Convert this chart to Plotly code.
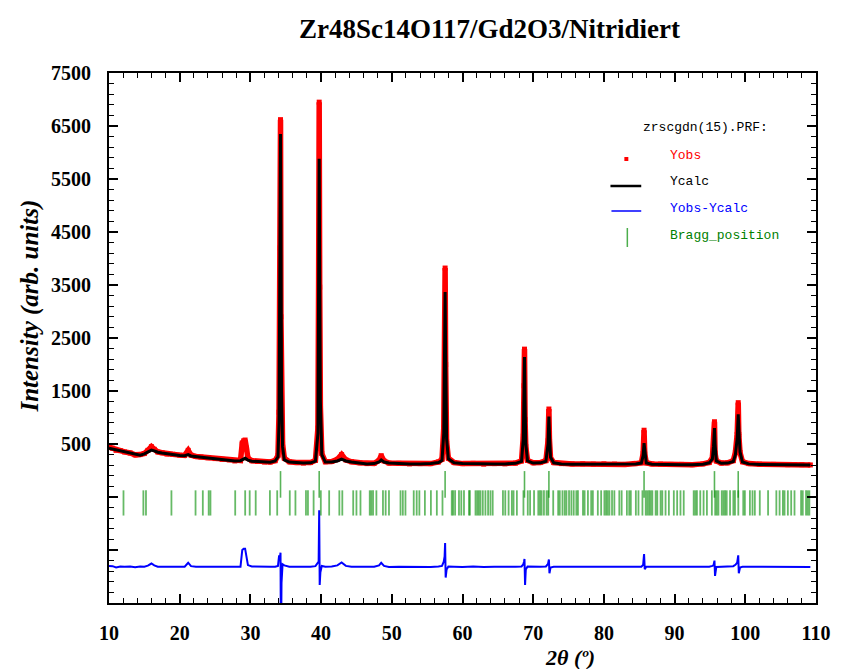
import plotly.graph_objects as go

# ---------------- data ----------------
two_theta = [10.0, 10.5, 11.0, 11.6, 12.2, 13.0, 13.7, 14.4, 15.0, 15.5, 16.0, 16.4, 16.9, 17.5, 18.2,
             19.0, 20.0, 20.7, 21.2, 21.6, 22.3, 23.0, 24.0, 25.0, 26.0, 27.0, 27.8, 28.6, 28.85, 29.05,
             29.25, 29.45, 29.65, 30.2, 31.0, 32.0, 32.8, 33.5, 33.9, 34.05, 34.20, 34.26, 34.32, 34.40,
             34.55, 34.80, 35.5, 36.5, 37.5, 38.5, 39.2, 39.55, 39.65, 39.73, 39.80, 39.90, 40.10, 40.6,
             41.5, 42.3, 42.9, 43.5, 44.3, 45.5, 46.5, 47.5, 48.2, 48.5, 48.9, 49.6, 51.0, 52.5, 54.0,
             55.5, 56.6, 57.1, 57.35, 57.47, 57.54, 57.62, 57.75, 58.0, 58.8, 60.0, 61.5, 63.0, 64.5,
             66.0, 67.5, 68.35, 68.60, 68.70, 68.77, 68.85, 68.95, 69.2, 70.0, 71.0, 71.8, 72.10, 72.22,
             72.30, 72.45, 72.9, 74.0, 75.5, 77.0, 78.5, 80.0, 81.5, 83.0, 84.5, 85.3, 85.55, 85.68,
             85.78, 86.0, 86.8, 88.0, 89.5, 91.0, 92.5, 94.0, 94.9, 95.35, 95.50, 95.64, 95.72, 95.90,
             96.6, 97.5, 98.3, 98.6, 98.85, 99.00, 99.08, 99.25, 99.6, 100.5, 102.0, 104.0, 106.0,
             108.0, 109.2]

y_calc = [420, 405, 390, 365, 345, 320, 300, 290, 315, 355, 385, 370, 345, 330, 315,
          300, 285, 280, 300, 275, 260, 250, 235, 220, 205, 190, 180, 185, 200, 215,
          230, 215, 195, 175, 165, 155, 155, 180, 260, 900, 4000, 6350, 4650, 1500,
          450, 200, 160, 145, 140, 145, 175, 700, 3500, 5880, 3800, 1300, 300, 160,
          160, 180, 215, 180, 160, 140, 125, 130, 160, 200, 160, 140, 130, 125, 125,
          130, 150, 190, 700, 2300, 3370, 2200, 600, 220, 145, 130, 125, 120, 125,
          125, 135, 170, 600, 1500, 2140, 1300, 500, 180, 140, 145, 175, 500, 1020,
          700, 250, 145, 125, 120, 120, 125, 120, 115, 115, 125, 140, 280, 515,
          350, 140, 120, 115, 115, 110, 110, 120, 145, 220, 450, 800, 500, 180,
          135, 140, 170, 300, 600, 1060, 800, 350, 160, 125, 115, 110, 110,
          105, 105]

y_obs = [440, 420, 380, 375, 350, 330, 295, 300, 320, 380, 450, 400, 350, 335, 310,
         305, 290, 285, 380, 290, 265, 255, 240, 225, 210, 200, 180, 190, 520, 560,
         575, 420, 230, 185, 170, 160, 160, 185, 280, 1100, 4200, 6620, 2900, 1200,
         500, 230, 165, 150, 140, 150, 190, 800, 3600, 6950, 3460, 1200, 320, 165,
         170, 210, 300, 200, 165, 145, 130, 135, 190, 280, 180, 140, 135, 125, 130,
         130, 160, 210, 800, 2500, 3820, 2000, 550, 230, 150, 130, 135, 120, 130,
         125, 140, 180, 650, 1600, 2290, 960, 450, 190, 145, 150, 185, 560, 1160,
         580, 240, 150, 130, 125, 125, 120, 125, 120, 115, 130, 145, 320, 760,
         310, 145, 125, 120, 115, 115, 110, 125, 150, 240, 480, 920, 330, 180,
         140, 145, 185, 340, 680, 1280, 680, 340, 165, 130, 120, 115, 110,
         110, 105]

bragg_phase1 = [34.26, 39.73, 57.54, 68.77, 72.22, 85.68, 95.64, 99.0]

bragg_phase2 = [12.05, 14.86, 15.23, 18.83, 22.24, 23.27, 24.10, 24.35, 27.85, 29.26, 29.90, 30.75,
                32.76, 33.79, 35.57, 36.37, 37.86, 38.14, 38.94, 39.96, 41.14, 42.58, 43.00, 44.54,
                45.00, 45.57, 46.88, 47.10, 47.35, 47.82, 48.75, 49.13, 49.60, 51.23, 51.56, 51.93,
                53.10, 53.52, 53.90, 54.68, 55.53, 56.37, 57.17, 58.48, 58.67, 58.95, 59.50, 59.83,
                60.21, 60.91, 61.05, 61.84, 62.08, 62.31, 62.54, 62.87, 63.24, 63.62, 63.95, 64.27,
                65.72, 66.05, 66.52, 66.98, 67.22, 67.69, 68.62, 69.23, 69.56, 70.12, 70.72, 70.96,
                71.19, 71.52, 71.89, 72.13, 72.83, 73.53, 73.76, 74.14, 74.46, 74.70, 75.07, 75.40,
                75.73, 76.10, 76.33, 77.04, 77.27, 77.74, 78.20, 78.44, 79.14, 79.61, 80.07, 80.31,
                80.54, 80.78, 81.15, 81.48, 82.18, 82.51, 83.25, 83.58, 83.81, 84.52, 84.89, 85.45,
                85.92, 86.15, 86.39, 86.62, 86.85, 87.32, 87.55, 88.02, 88.26, 88.72, 89.19, 89.89,
                90.36, 90.83, 91.29, 92.70, 92.93, 93.16, 93.63, 94.10, 94.57, 95.27, 95.74, 95.97,
                96.20, 96.67, 96.91, 97.14, 97.37, 97.84, 98.31, 98.54, 99.01, 99.71, 99.94, 100.65,
                101.02, 101.35, 102.05, 103.22, 104.39, 104.85, 105.32, 105.55, 106.02, 106.49,
                106.96, 107.89, 108.13, 108.59, 108.83, 109.06]

x_ticks = [10, 20, 30, 40, 50, 60, 70, 80, 90, 100, 110]
y_ticks = [-2500, -1500, -500, 500, 1500, 2500, 3500, 4500, 5500, 6500, 7500]
y_ticklabels = ["", "", "", "500", "1500", "2500", "3500", "4500", "5500", "6500", "7500"]

title_text = "Zr48Sc14O117/Gd2O3/Nitridiert"
file_label = "zrscgdn(15).PRF:"
legend_labels = ["Yobs", "Ycalc", "Yobs-Ycalc", "Bragg_position"]

# plotting constants (layout only)
DIFF_OFFSET = -1820
PHASE1_ROW = -262
PHASE2_ROW = -612

diff = [o - c + DIFF_OFFSET for o, c in zip(y_obs, y_calc)]

# ---------------- figure ----------------
PL, PR, PT, PB = 109, 821, 73, 603   # plot frame in pixels
W, H = 842, 669


def px(x):
    return (x - PL) / (PR - PL)


def py(y):
    return (PB - y) / (PB - PT)


fig = go.Figure()

fig.add_trace(go.Scatter(
    x=two_theta, y=y_obs, mode="lines+markers",
    line=dict(color="#ff0000", width=5.5),
    marker=dict(symbol="square", size=5, color="#ff0000"),
    showlegend=False, hoverinfo="skip"))

fig.add_trace(go.Scatter(
    x=two_theta, y=y_calc, mode="lines",
    line=dict(color="#000000", width=3),
    showlegend=False, hoverinfo="skip"))

fig.add_trace(go.Scatter(
    x=two_theta, y=diff, mode="lines",
    line=dict(color="#0000ff", width=2),
    showlegend=False, hoverinfo="skip"))

fig.add_trace(go.Scatter(
    x=bragg_phase1, y=[PHASE1_ROW] * len(bragg_phase1), mode="markers",
    marker=dict(symbol="line-ns", size=19, line=dict(color="rgba(0,140,0,0.65)", width=1.6)),
    showlegend=False, hoverinfo="skip"))

fig.add_trace(go.Scatter(
    x=bragg_phase2, y=[PHASE2_ROW] * len(bragg_phase2), mode="markers",
    marker=dict(symbol="line-ns", size=18, line=dict(color="rgba(0,140,0,0.6)", width=1.8)),
    showlegend=False, hoverinfo="skip"))

tickfont = dict(family="Liberation Serif", size=20, color="black", weight="bold")

fig.update_xaxes(
    range=[10, 110], tickmode="array", tickvals=x_ticks, ticktext=[str(v) for v in x_ticks],
    ticks="inside", ticklen=9, tickwidth=2, tickcolor="black",
    minor=dict(tickmode="linear", tick0=10, dtick=2, ticks="inside", ticklen=5, tickwidth=1.3, tickcolor="black"),
    showline=True, linecolor="black", linewidth=2, mirror="ticks",
    showgrid=False, zeroline=False, tickfont=tickfont, ticklabelstandoff=11)

fig.update_yaxes(
    range=[-2500, 7500], tickmode="array", tickvals=y_ticks, ticktext=y_ticklabels,
    ticks="inside", ticklen=9, tickwidth=2, tickcolor="black",
    minor=dict(tickmode="linear", tick0=-2500, dtick=200, ticks="inside", ticklen=5, tickwidth=1.3, tickcolor="black"),
    showline=True, linecolor="black", linewidth=2, mirror="ticks",
    showgrid=False, zeroline=False, tickfont=tickfont, ticklabelstandoff=12)

annotations = [
    dict(text="<b>" + title_text + "</b>", x=px(492), y=py(29), xref="paper", yref="paper",
         showarrow=False, font=dict(family="Liberation Serif", size=27, color="black"),
         xanchor="center", yanchor="middle"),
    dict(text="<b><i>Intensity (arb. units)</i></b>", x=px(29), y=py(306), xref="paper", yref="paper",
         showarrow=False, textangle=-90, font=dict(family="Liberation Serif", size=25, color="black"),
         xanchor="center", yanchor="middle"),
    dict(text="<b><i>2θ (º)</i></b>", x=px(573), y=py(657), xref="paper", yref="paper",
         showarrow=False, font=dict(family="Liberation Serif", size=22, color="black"),
         xanchor="center", yanchor="middle"),
    dict(text=file_label, x=px(645), y=py(128), xref="paper", yref="paper", showarrow=False,
         font=dict(family="Liberation Mono", size=13, color="black"), xanchor="left", yanchor="middle"),
]
legend_colors = ["#ff0000", "#000000", "#0000ff", "#008000"]
legend_y = [155, 182, 208, 235]
for lab, col, yy in zip(legend_labels, legend_colors, legend_y):
    annotations.append(dict(text=lab, x=px(672), y=py(yy), xref="paper", yref="paper", showarrow=False,
                            font=dict(family="Liberation Mono", size=13, color=col),
                            xanchor="left", yanchor="middle"))

shapes = [
    dict(type="rect", xref="paper", yref="paper", x0=px(628), x1=px(632), y0=py(157), y1=py(161),
         fillcolor="#ff0000", line=dict(width=0)),
    dict(type="line", xref="paper", yref="paper", x0=px(614), x1=px(645), y0=py(186), y1=py(186),
         line=dict(color="black", width=2.5)),
    dict(type="line", xref="paper", yref="paper", x0=px(615), x1=px(645), y0=py(211), y1=py(211),
         line=dict(color="#0000ff", width=1.5)),
    dict(type="line", xref="paper", yref="paper", x0=px(631), x1=px(631), y0=py(228), y1=py(247),
         line=dict(color="rgba(0,140,0,0.7)", width=1.5)),
]

fig.update_layout(
    width=W, height=H,
    margin=dict(l=PL, r=W - PR, t=PT, b=H - PB, pad=0),
    paper_bgcolor="white", plot_bgcolor="white",
    showlegend=False,
    annotations=annotations, shapes=shapes,
)

fig.write_html("out.html")
